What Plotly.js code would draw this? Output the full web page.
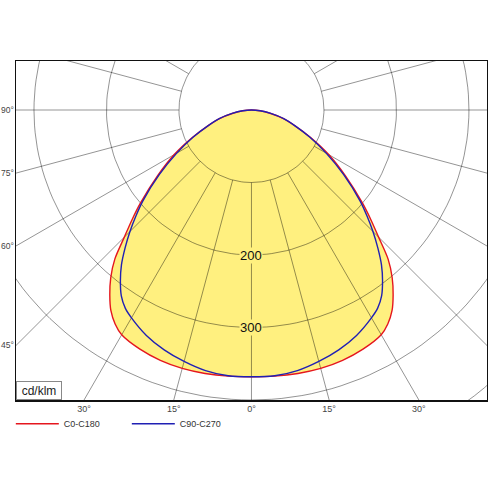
<!DOCTYPE html>
<html><head><meta charset="utf-8">
<script src="https://cdn.plot.ly/plotly-3.0.1.min.js"></script>
<style>html,body{margin:0;padding:0;background:#fff}#chart{width:488px;height:488px}</style>
</head><body><div id="chart"></div>
<script>
// Gamma angles (degrees from nadir) and luminous intensity (cd/klm)
const gammaDeg = [0,5,10,15,20,25,30,32.5,35,37.5,40,42.5,45,47.5,50,55,60,65,70,75,80,85,90];
const c0   = [368,368.5,369,369,367.5,364,358,350,338,321,302,279,248,223,200,158,123,90,64,45,26,12,0];
const c180 = [368,368.5,369,369,367.5,364,358,350,338,321,302,279,248,223,200,158,123,90,64,45,26,12,0];
const c90  = [368,368,365,359,352,343,331,324,313,297,279,258,237,216,196,155,119,89,64,46,27,12,0];
const c270 = [368,368,365,359,352,343,331,324,313,297,279,258,237,216,196,155,119,89,64,46,27,12,0];
const seriesNames = ['C0-C180','C90-C270'];

// Polar grid
const ringValues = [100,200,300,400,500];
const ringLabelValues = [200,300];
const spokeAngles = [0,15,30,45,60,75,90,105,120,135,150,165,180,195,210,225,240,255,270,285,300,315,330,345];
const spokeInner = 100, spokeOuter = 700;
const bottomTickAngles = [-30,-15,0,15,30];
const bottomTickText = ['30°','15°','0°','15°','30°'];
const sideTickAngles = [90,75,60,45];
const sideTickText = ['90°','75°','60°','45°'];
const unitLabel = 'cd/klm';

const xRange = [-324.8, 324.9];
const yRange = [-400, 67.6];

const rad = d => d*Math.PI/180;
function curve(left, right){
  const x=[], y=[];
  for(let i=gammaDeg.length-1;i>=0;i--){ x.push(-left[i]*Math.sin(rad(gammaDeg[i]))); y.push(-left[i]*Math.cos(rad(gammaDeg[i]))); }
  for(let i=1;i<gammaDeg.length;i++){ x.push(right[i]*Math.sin(rad(gammaDeg[i]))); y.push(-right[i]*Math.cos(rad(gammaDeg[i]))); }
  return {x,y};
}
const red = curve(c180, c0);
const blue = curve(c270, c90);

const ringX=[], ringY=[];
ringValues.forEach(r=>{
  for(let a=0;a<=360;a+=2){ ringX.push(r*Math.sin(rad(a))); ringY.push(-r*Math.cos(rad(a))); }
  ringX.push(null); ringY.push(null);
});
const spokeX=[], spokeY=[];
spokeAngles.forEach(a=>{
  spokeX.push(spokeInner*Math.sin(rad(a)), spokeOuter*Math.sin(rad(a)), null);
  spokeY.push(-spokeInner*Math.cos(rad(a)), -spokeOuter*Math.cos(rad(a)), null);
});

const yellow = '#fff07f';
const gridColor = 'rgba(0,0,0,0.42)';
const redColor = '#e5161e', blueColor = '#2020b4';
const font = 'Liberation Sans, Arial, sans-serif';

const traces = [
  {x:red.x, y:red.y, mode:'lines', fill:'toself', fillcolor:yellow, line:{width:0, shape:'spline', smoothing:0.8}, showlegend:false, hoverinfo:'skip'},
  {x:blue.x, y:blue.y, mode:'lines', fill:'toself', fillcolor:yellow, line:{width:0, shape:'spline', smoothing:0.8}, showlegend:false, hoverinfo:'skip'},
  {x:ringX, y:ringY, mode:'lines', line:{color:gridColor, width:1}, showlegend:false, hoverinfo:'skip'},
  {x:spokeX, y:spokeY, mode:'lines', line:{color:gridColor, width:1}, showlegend:false, hoverinfo:'skip'},
  {x:red.x, y:red.y, mode:'lines', name:seriesNames[0], line:{color:redColor, width:1.4, shape:'spline', smoothing:0.8}},
  {x:blue.x, y:blue.y, mode:'lines', name:seriesNames[1], line:{color:blueColor, width:1.4, shape:'spline', smoothing:0.8}}
];

const bottomY = yRange[0];
const leftX = xRange[0];
const layout = {
  width:488, height:488,
  margin:{l:16, r:1, t:61, b:88},
  paper_bgcolor:'#fff', plot_bgcolor:'#fff',
  font:{family:font, color:'#333'},
  xaxis:{range:xRange, showgrid:false, zeroline:false, showline:true, mirror:true, linecolor:'#111', linewidth:1.5,
    tickmode:'array', tickvals:bottomTickAngles.map(a=>-bottomY*Math.tan(rad(a))), ticktext:bottomTickText,
    ticks:'', tickfont:{size:9, color:'#444', family:font}, fixedrange:true},
  yaxis:{range:yRange, showgrid:false, zeroline:false, showline:true, mirror:true, linecolor:'#111', linewidth:1.5,
    tickmode:'array', tickvals:sideTickAngles.map(a=>leftX*Math.cos(rad(a))/Math.sin(rad(a))), ticktext:sideTickText,
    ticks:'', tickfont:{size:8.5, color:'#444', family:font}, ticklabelstandoff:-1, fixedrange:true},
  legend:{orientation:'h', x:-0.011, xanchor:'left', y:-0.07, yanchor:'middle', font:{size:9, color:'#333', family:font},
    itemwidth:43, entrywidth:58, entrywidthmode:'pixels', bgcolor:'rgba(0,0,0,0)'},
  annotations:[
    ...ringLabelValues.map(v=>({x:0, y:-v, xref:'x', yref:'y', text:String(v), showarrow:false,
      font:{size:13, color:'#111', family:font}, bgcolor:yellow, borderpad:0})),
    {x:0, y:0, xref:'paper', yref:'paper', xanchor:'left', yanchor:'bottom', text:unitLabel, showarrow:false,
      font:{size:12, color:'#222', family:font}, bgcolor:'#fff', bordercolor:'#888', borderwidth:1, borderpad:1, width:42, height:15}
  ],
  showlegend:true
};
Plotly.newPlot('chart', traces, layout, {displayModeBar:false, staticPlot:true});
</script></body></html>
